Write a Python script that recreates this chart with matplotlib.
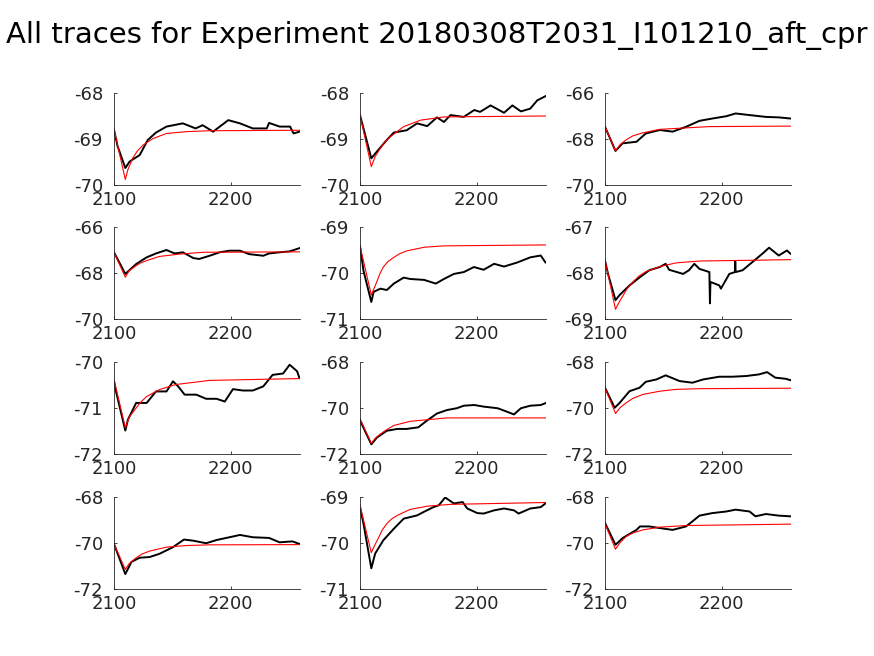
import numpy as np
import matplotlib
matplotlib.use('Agg')
import matplotlib.pyplot as plt

plt.rcParams['font.family'] = ['DejaVu Sans']

title = 'All traces for Experiment 20180308T2031_I101210_aft_cpr'

# black traces (x, y), one list per panel
trace_x = [
    [2100, 2103, 2109.7, 2113.4, 2122, 2129, 2136, 2145, 2159, 2170, 2176, 2185, 2198, 2208, 2219, 2231, 2233, 2242, 2251, 2254, 2259],
    [2100, 2109.7, 2114.6, 2123, 2129, 2140, 2149, 2157.6, 2166, 2172, 2177.6, 2189, 2198, 2203, 2212, 2223.5, 2230.7, 2238, 2246, 2252, 2259],
    [2100, 2109, 2115, 2127, 2135, 2147, 2158, 2169.5, 2181, 2192, 2204, 2212, 2224, 2238, 2249, 2259],
    [2100, 2109.7, 2119, 2128, 2136, 2145, 2152, 2159, 2168, 2173, 2182, 2190.6, 2199, 2208, 2216, 2228, 2233, 2242, 2250.6, 2259],
    [2100, 2103, 2109.7, 2111.7, 2117.5, 2123, 2129, 2137.5, 2143, 2155, 2165, 2172, 2180.5, 2189, 2197.7, 2206, 2215, 2223.5, 2235, 2246, 2255, 2259],
    [2100, 2102.6, 2109, 2112.5, 2121, 2130, 2138, 2147, 2152, 2155, 2167, 2172, 2176.6, 2181, 2189.5, 2190, 2190.4, 2191, 2198, 2199.4, 2206.6, 2211.4, 2211.7, 2212, 2218, 2226.5, 2235, 2240.7, 2249, 2256, 2259],
    [2100, 2102, 2109.7, 2112, 2119, 2128, 2136, 2145, 2150.6, 2155, 2160.6, 2170.6, 2179, 2188, 2195, 2202, 2210.6, 2219, 2228, 2236, 2245, 2250.6, 2257, 2259],
    [2100, 2109.7, 2114.6, 2123, 2132, 2140, 2150, 2157.6, 2166, 2174.5, 2183, 2189, 2198, 2206, 2218, 2226, 2232, 2238, 2246, 2255, 2259],
    [2100, 2108.3, 2112.5, 2121, 2129.6, 2135, 2144, 2152, 2164, 2175, 2184, 2198, 2209, 2221, 2232, 2239, 2246, 2255, 2259],
    [2100, 2109.7, 2115, 2122, 2130.6, 2139, 2150.6, 2160, 2168, 2179, 2188, 2199, 2208, 2219, 2233, 2242, 2253, 2259],
    [2100, 2103, 2109.7, 2113, 2120, 2129, 2137.5, 2149, 2155, 2163, 2167.6, 2173, 2180.5, 2188, 2192, 2200.6, 2206, 2215, 2223.5, 2232, 2236, 2246, 2255, 2259],
    [2100, 2109, 2115, 2127, 2130, 2138, 2147, 2158, 2169.5, 2175, 2181, 2192, 2204, 2212, 2224, 2229, 2238, 2249, 2259],
]
trace_y = [
    [-68.80, -69.15, -69.63, -69.49, -69.35, -69.02, -68.86, -68.73, -68.66, -68.77, -68.70, -68.84, -68.59, -68.66, -68.77, -68.77, -68.65, -68.73, -68.73, -68.88, -68.84],
    [-68.48, -69.42, -69.27, -69.02, -68.86, -68.81, -68.66, -68.72, -68.53, -68.63, -68.48, -68.52, -68.37, -68.41, -68.27, -68.43, -68.27, -68.40, -68.34, -68.16, -68.07],
    [-67.47, -68.52, -68.19, -68.12, -67.76, -67.61, -67.68, -67.47, -67.21, -67.11, -67.01, -66.89, -66.96, -67.04, -67.06, -67.11],
    [-67.10, -68.04, -67.61, -67.32, -67.15, -67.00, -67.15, -67.10, -67.35, -67.39, -67.25, -67.10, -67.03, -67.03, -67.18, -67.25, -67.15, -67.10, -67.06, -66.92],
    [-69.41, -69.95, -70.63, -70.41, -70.34, -70.37, -70.23, -70.10, -70.13, -70.15, -70.23, -70.13, -70.02, -69.98, -69.87, -69.93, -69.80, -69.86, -69.77, -69.66, -69.62, -69.77],
    [-67.73, -68.02, -68.59, -68.48, -68.27, -68.09, -67.94, -67.87, -67.80, -67.93, -68.02, -67.94, -67.80, -67.91, -67.98, -68.66, -68.20, -68.20, -68.27, -68.34, -68.02, -67.98, -67.75, -67.98, -67.94, -67.76, -67.58, -67.45, -67.62, -67.51, -67.58],
    [-70.42, -70.67, -71.49, -71.25, -70.89, -70.89, -70.64, -70.64, -70.42, -70.53, -70.71, -70.71, -70.80, -70.80, -70.86, -70.59, -70.62, -70.62, -70.53, -70.28, -70.25, -70.06, -70.20, -70.35],
    [-70.54, -71.58, -71.28, -70.99, -70.91, -70.91, -70.84, -70.54, -70.24, -70.09, -70.01, -69.90, -69.87, -69.94, -70.01, -70.16, -70.28, -70.01, -69.90, -69.87, -69.79],
    [-69.12, -69.99, -69.78, -69.27, -69.12, -68.86, -68.76, -68.58, -68.83, -68.90, -68.76, -68.64, -68.64, -68.61, -68.54, -68.44, -68.68, -68.73, -68.79],
    [-70.04, -71.35, -70.82, -70.64, -70.61, -70.47, -70.18, -69.85, -69.90, -70.01, -69.87, -69.75, -69.65, -69.75, -69.78, -69.97, -69.93, -70.04],
    [-69.22, -69.58, -70.55, -70.23, -69.94, -69.69, -69.47, -69.40, -69.32, -69.22, -69.18, -69.01, -69.14, -69.11, -69.25, -69.35, -69.36, -69.29, -69.25, -69.29, -69.36, -69.25, -69.22, -69.14],
    [-69.13, -70.08, -69.79, -69.43, -69.28, -69.28, -69.35, -69.43, -69.28, -69.06, -68.81, -68.70, -68.63, -68.55, -68.63, -68.84, -68.74, -68.81, -68.84],
]

# red fitted curves
fit_x = [
    [2100, 2109.7, 2112, 2116, 2120, 2125, 2133.4, 2145, 2162, 2182, 2259],
    [2100, 2109.7, 2113, 2117.5, 2121, 2126, 2137.5, 2152, 2172, 2259],
    [2100, 2109, 2113, 2118, 2124, 2132.5, 2147, 2161, 2190, 2259],
    [2100, 2109.7, 2113, 2119, 2123, 2128, 2139, 2156, 2176, 2259],
    [2100, 2109.7, 2112, 2114.6, 2117, 2120, 2124, 2129, 2134, 2140, 2155, 2172, 2259],
    [2100, 2109, 2112, 2115, 2119, 2124, 2129, 2135, 2147, 2161, 2181, 2259],
    [2100, 2109.7, 2113, 2119, 2123, 2128, 2139, 2153, 2182, 2259],
    [2100, 2109.7, 2113, 2117.5, 2122, 2129, 2143, 2157.6, 2174.5, 2259],
    [2100, 2109, 2113, 2118, 2124, 2132.5, 2147, 2161, 2181, 2259],
    [2100, 2109.7, 2113, 2119, 2124, 2130.6, 2145, 2162, 2182, 2259],
    [2100, 2109.7, 2112, 2116, 2119, 2123, 2127, 2132, 2143, 2157.6, 2177.6, 2259],
    [2100, 2109, 2113, 2118, 2124, 2132.5, 2147, 2169.5, 2259],
]
fit_y = [
    [-68.79, -69.88, -69.66, -69.42, -69.26, -69.13, -68.99, -68.88, -68.84, -68.82, -68.81],
    [-68.48, -69.60, -69.38, -69.20, -69.07, -68.95, -68.73, -68.59, -68.52, -68.50],
    [-67.47, -68.52, -68.24, -68.04, -67.86, -67.73, -67.58, -67.54, -67.46, -67.44],
    [-67.10, -68.18, -67.90, -67.68, -67.56, -67.46, -67.28, -67.18, -67.10, -67.08],
    [-69.41, -70.48, -70.34, -70.18, -70.02, -69.87, -69.75, -69.66, -69.58, -69.52, -69.44, -69.41, -69.39],
    [-67.72, -68.79, -68.64, -68.51, -68.34, -68.19, -68.07, -67.97, -67.86, -67.78, -67.74, -67.71],
    [-70.38, -71.43, -71.20, -71.00, -70.87, -70.75, -70.60, -70.49, -70.40, -70.36],
    [-70.46, -71.54, -71.32, -71.13, -70.97, -70.76, -70.58, -70.51, -70.43, -70.43],
    [-69.12, -70.24, -69.98, -69.78, -69.58, -69.41, -69.27, -69.19, -69.16, -69.14],
    [-70.04, -71.15, -70.90, -70.64, -70.48, -70.35, -70.18, -70.11, -70.08, -70.07],
    [-69.18, -70.21, -70.08, -69.88, -69.72, -69.58, -69.48, -69.40, -69.27, -69.20, -69.16, -69.12],
    [-69.16, -70.27, -69.98, -69.72, -69.56, -69.43, -69.31, -69.24, -69.18],
]

ylims = [(-70, -68), (-70, -68), (-70, -66),
         (-70, -66), (-71, -69), (-69, -67),
         (-72, -70), (-72, -68), (-72, -68),
         (-72, -68), (-71, -69), (-72, -68)]
xticks = [2100, 2200]

fig = plt.figure(figsize=(8.74, 6.56), dpi=100)
lefts = [114, 360, 605]
bottoms = [185, 319, 454, 589]
W, H = 874.0, 656.0
ink = '#262626'

for i in range(12):
    r, c = divmod(i, 3)
    ax = fig.add_axes([lefts[c] / W, 1 - bottoms[r] / H, 186 / W, 92 / H])
    ax.plot(trace_x[i], trace_y[i], color='k', lw=1.4)
    ax.plot(fit_x[i], fit_y[i], color='r', lw=0.8)
    lo, hi = ylims[i]
    ax.set_ylim(lo, hi)
    ax.set_xlim(2100, 2259.5)
    ax.set_yticks([lo, (lo + hi) / 2, hi])
    ax.set_yticklabels(['%d' % v for v in [lo, (lo + hi) / 2, hi]])
    ax.set_xticks(xticks)
    ax.spines['top'].set_visible(False)
    ax.spines['right'].set_visible(False)
    for s in ['left', 'bottom']:
        ax.spines[s].set_color(ink)
        ax.spines[s].set_linewidth(0.6)
    ax.tick_params(direction='in', length=2, width=0.6, colors=ink,
                   labelsize=13, pad=4)
    ax.tick_params(axis='y', pad=8)

fig.text(0.5, 1 - 35 / H, title, ha='center', va='center', fontsize=21, color='k')

plt.savefig('out.png', dpi=100)
